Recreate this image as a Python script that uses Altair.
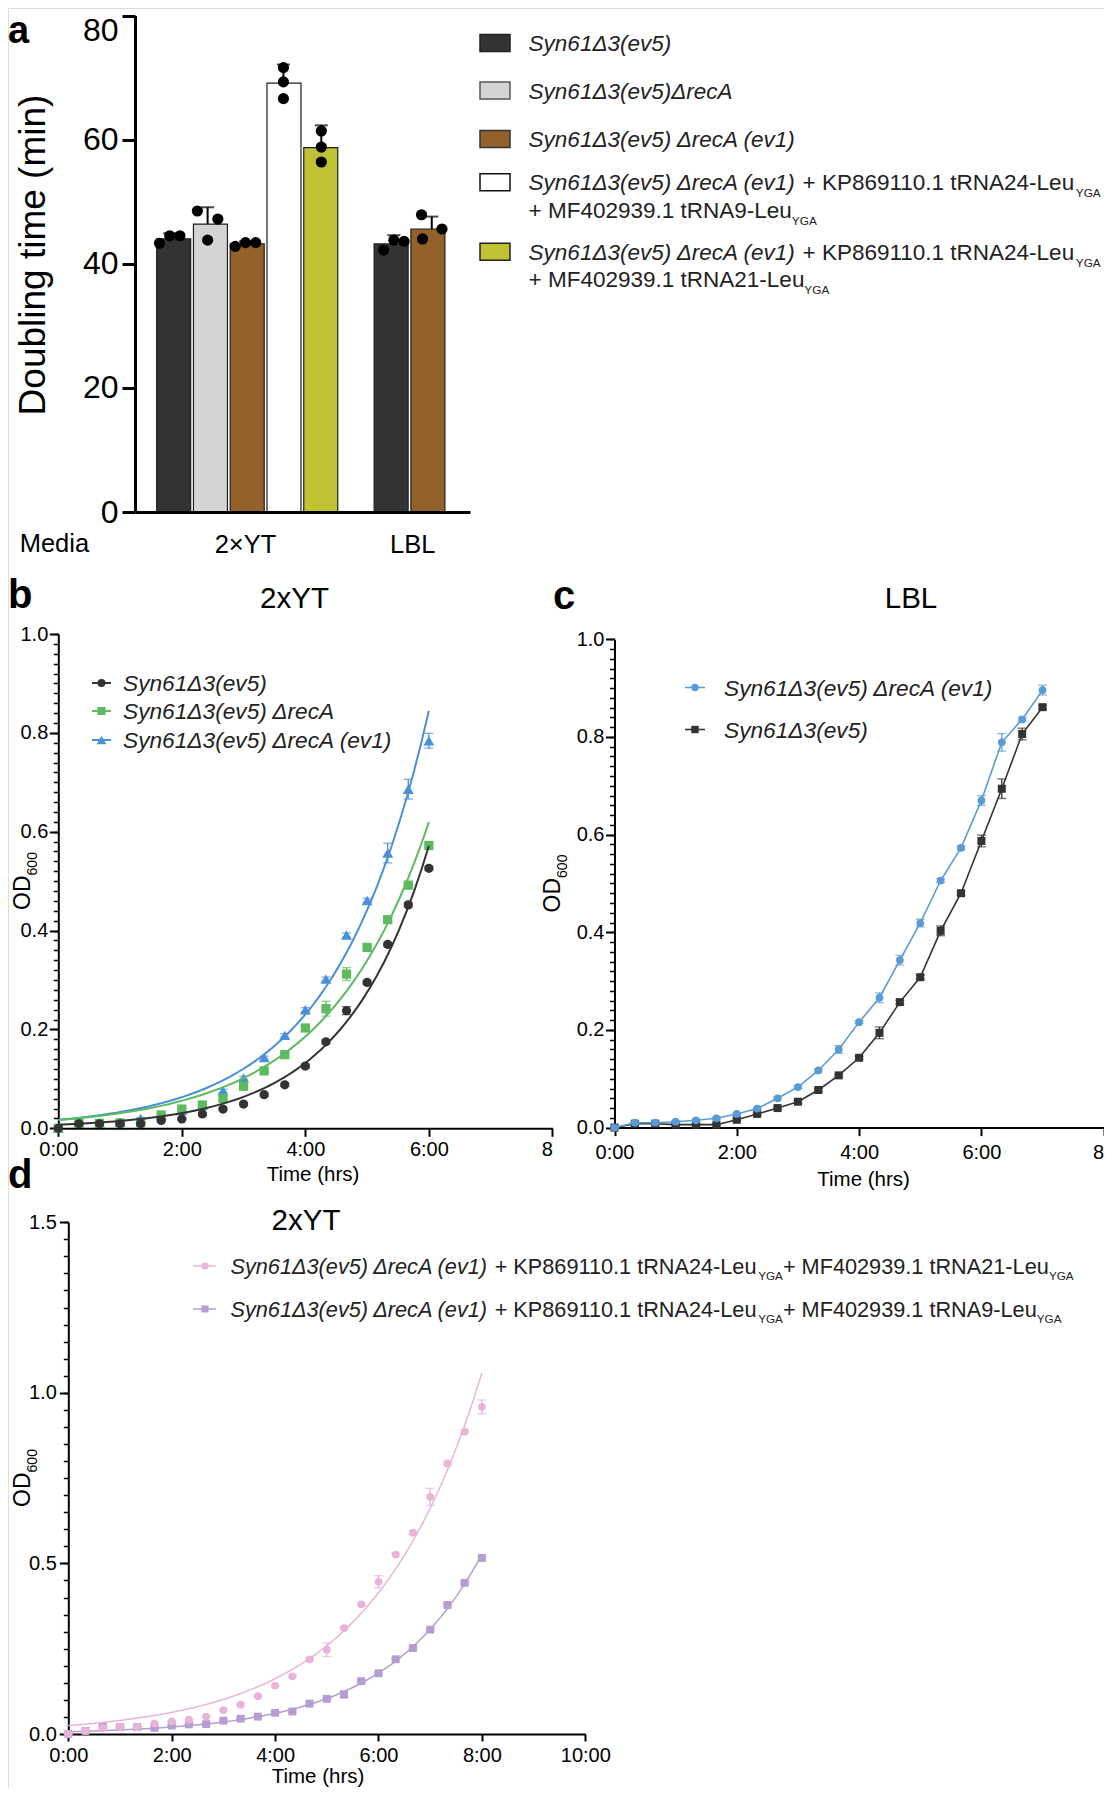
import altair as alt
import pandas as pd

FONT = "Liberation Sans"
W, H = 1096, 1780


def vx(x):
    return x - 8


def vy(y):
    return y - 8


ONE = pd.DataFrame({"k": [0]})

# ---------------- panel a : doubling times ----------------
a_media = ["2×YT", "2×YT", "2×YT", "2×YT", "2×YT", "LBL", "LBL"]
a_strain = ["ev5", "recA", "ev1", "ev1_t9", "ev1_t21", "ev5", "ev1"]
a_pos = [0, 1, 2, 3, 4, 0, 1]
a_mean = [44.0, 46.4, 43.2, 69.1, 58.7, 43.2, 45.6]
a_upper = [44.9, 49.1, 43.6, 72.1, 62.3, 44.6, 47.6]
a_reps = [
    [43.3, 44.5, 44.5],
    [48.5, 43.8, 47.2],
    [42.8, 43.4, 43.4],
    [71.6, 69.3, 66.6],
    [61.4, 58.8, 56.4],
    [42.2, 43.8, 43.6],
    [47.9, 44.0, 45.6],
]
a_spread = [[-1, 0, 1], [-1, 0, 1], [-1, 0, 1], [0, 0, 0], [0, 0, 0], [-1, 0, 1], [-1, -0.9, 1]]
a_keys = ["ev5", "recA", "ev1", "ev1_t9", "ev1_t21"]
a_colors = ["#333333", "#d4d4d4", "#93622b", "#ffffff", "#c0c133"]

# ---------------- panel b : 2xYT growth ----------------
b_min = [0, 20, 40, 60, 80, 100, 120, 140, 160, 180, 200, 220, 240, 260, 280, 300, 320, 340, 360]
b_ev5 = [0.0, 0.009, 0.009, 0.009, 0.009, 0.016, 0.019, 0.029, 0.039, 0.049, 0.068, 0.088, 0.126, 0.175, 0.238, 0.295, 0.372, 0.452, 0.526]
b_ev5_sd = [0.002, 0.002, 0.002, 0.002, 0.002, 0.002, 0.002, 0.003, 0.003, 0.003, 0.003, 0.003, 0.004, 0.004, 0.008, 0.004, 0.004, 0.004, 0.004]
b_recA = [0.0, 0.010, 0.010, 0.011, 0.011, 0.027, 0.039, 0.047, 0.060, 0.085, 0.116, 0.149, 0.203, 0.242, 0.312, 0.366, 0.422, 0.492, 0.572]
b_recA_sd = [0.002, 0.002, 0.002, 0.002, 0.002, 0.002, 0.002, 0.003, 0.003, 0.003, 0.003, 0.003, 0.006, 0.015, 0.013, 0.004, 0.006, 0.004, 0.004]
b_ev1 = [0.0, 0.010, 0.010, 0.012, 0.020, 0.027, 0.036, 0.046, 0.076, 0.102, 0.143, 0.188, 0.240, 0.302, 0.391, 0.461, 0.557, 0.686, 0.784]
b_ev1_sd = [0.002, 0.002, 0.002, 0.002, 0.002, 0.002, 0.002, 0.003, 0.003, 0.003, 0.003, 0.003, 0.004, 0.004, 0.004, 0.004, 0.020, 0.020, 0.015]

# ---------------- panel c : LBL growth ----------------
c_min = [0, 20, 40, 60, 80, 100, 120, 140, 160, 180, 200, 220, 240, 260, 280, 300, 320, 340, 360, 380, 400, 420]
c_ev1 = [0.0, 0.010, 0.010, 0.012, 0.015, 0.019, 0.028, 0.039, 0.060, 0.083, 0.117, 0.160, 0.216, 0.266, 0.343, 0.419, 0.506, 0.573, 0.670, 0.789, 0.836, 0.896]
c_ev1_sd = [0.002, 0.002, 0.002, 0.002, 0.002, 0.002, 0.002, 0.002, 0.003, 0.003, 0.003, 0.008, 0.003, 0.010, 0.010, 0.008, 0.004, 0.004, 0.010, 0.018, 0.004, 0.010]
c_ev5 = [0.0, 0.008, 0.008, 0.006, 0.006, 0.006, 0.016, 0.028, 0.040, 0.053, 0.077, 0.107, 0.143, 0.194, 0.257, 0.308, 0.403, 0.480, 0.587, 0.694, 0.806, 0.861]
c_ev5_sd = [0.002, 0.002, 0.002, 0.002, 0.002, 0.002, 0.002, 0.002, 0.003, 0.003, 0.003, 0.003, 0.003, 0.012, 0.004, 0.004, 0.010, 0.004, 0.012, 0.020, 0.012, 0.004]

# ---------------- panel d : tRNA strains in 2xYT ----------------
d_min = [0, 20, 40, 60, 80, 100, 120, 140, 160, 180, 200, 220, 240, 260, 280, 300, 320, 340, 360, 380, 400, 420, 440, 460, 480]
d_t21 = [0.0, 0.009, 0.017, 0.020, 0.020, 0.031, 0.037, 0.042, 0.051, 0.070, 0.086, 0.111, 0.142, 0.169, 0.219, 0.247, 0.310, 0.380, 0.446, 0.526, 0.590, 0.695, 0.793, 0.886, 0.959]
d_t21_sd = [0.002, 0.002, 0.002, 0.002, 0.002, 0.002, 0.002, 0.002, 0.003, 0.003, 0.003, 0.003, 0.003, 0.003, 0.004, 0.020, 0.004, 0.004, 0.018, 0.004, 0.004, 0.025, 0.004, 0.004, 0.020]
d_t9 = [0.0, 0.009, 0.023, 0.020, 0.020, 0.018, 0.025, 0.028, 0.029, 0.039, 0.045, 0.051, 0.062, 0.066, 0.089, 0.103, 0.116, 0.155, 0.178, 0.219, 0.252, 0.306, 0.378, 0.443, 0.516]
d_t9_sd = [0.002, 0.002, 0.002, 0.002, 0.002, 0.002, 0.002, 0.002, 0.002, 0.002, 0.002, 0.002, 0.003, 0.003, 0.003, 0.003, 0.010, 0.003, 0.003, 0.003, 0.003, 0.003, 0.004, 0.004, 0.004]

# ---------------- text helpers ----------------
AW = {" ": 278, "+": 584, "-": 333, ".": 278, "(": 333, ")": 333, ":": 278, "×": 584, "Δ": 668,
      "A": 667, "B": 667, "D": 722, "F": 611, "G": 778, "K": 667, "L": 556, "M": 833, "N": 722,
      "O": 778, "P": 667, "R": 722, "S": 667, "T": 611, "Y": 667,
      "a": 556, "b": 556, "c": 500, "d": 556, "e": 556, "g": 556, "h": 556, "i": 222, "l": 222,
      "m": 833, "n": 556, "o": 556, "r": 333, "s": 500, "t": 278, "u": 556, "v": 500, "x": 500, "y": 500}


def text_w(s, size):
    return sum(AW.get(c, 556) for c in s) * size / 1000.0


def label(text, x, y, size, style="normal", weight="normal", align="left", angle=0, color="black"):
    return alt.Chart(ONE).mark_text(
        text=text, font=FONT, fontSize=size, fontStyle=style, fontWeight=weight,
        align=align, baseline="alphabetic", angle=angle, color=color,
    ).encode(x=alt.value(vx(x)), y=alt.value(vy(y)))


def rich(x, y, segs, size, sub_size, sub_dy, color="#222222"):
    out = []
    cx = x
    for txt, st in segs:
        fs = sub_size if st == "s" else size
        lead = len(txt) - len(txt.lstrip(" "))
        trail = len(txt) - len(txt.rstrip(" "))
        body = txt.strip(" ")
        cx += text_w(" " * lead, fs)
        out.append(label(body, cx, y + (sub_dy if st == "s" else 0), fs,
                         style="italic" if st == "i" else "normal", color=color))
        cx += text_w(body, fs) + text_w(" " * trail, fs)
    return out


def od_title(xb, ymid, size=23, sub=14):
    total = text_w("OD", size) + text_w("600", sub)
    y0 = ymid + total / 2
    return [label("OD", xb, y0, size, angle=270),
            label("600", xb + 7, y0 - text_w("OD", size), sub, angle=270)]


def axes_layer(xs, ys, xdom, ydom, xaxis, yaxis):
    df = pd.DataFrame({"x": [xdom[0]], "y": [ydom[0]]})
    return alt.Chart(df).mark_point(opacity=0).encode(
        x=alt.X("x:Q", scale=xs, axis=xaxis), y=alt.Y("y:Q", scale=ys, axis=yaxis))


def minor_y(ys, values, axis_x):
    df = pd.DataFrame({"v": values})
    return alt.Chart(df).mark_point(opacity=0).encode(
        y=alt.Y("v:Q", scale=ys, axis=alt.Axis(
            orient="left", offset=-vx(axis_x), values=values, tickSize=5, tickWidth=1.5,
            tickColor="black", labels=False, domain=False, grid=False, title=None)))


def growth_axes(xs, ys, xdom, ydom, ax_x, ax_y, xticks, yticks, ylabpad, xlabpad, xtick, label_expr, last_right=None):
    align = "center"
    if last_right is not None:
        align = {"condition": {"test": "datum.value == %s" % last_right, "value": "right"}, "value": "center"}
    xaxis = alt.Axis(orient="bottom", offset=vy(ax_y) - H, values=xticks, tickSize=xtick, tickWidth=2,
                     tickColor="black", domainWidth=2, domainColor="black", labelExpr=label_expr,
                     labelFont=FONT, labelFontSize=20, labelColor="black", labelPadding=xlabpad,
                     labelAlign=align, labelFlush=False, labelOverlap=False, grid=False, title=None)
    yaxis = alt.Axis(orient="left", offset=-vx(ax_x), values=yticks, format=".1f", tickSize=9, tickWidth=2,
                     tickColor="black", domainWidth=2, domainColor="black", labelFont=FONT,
                     labelFontSize=20, labelColor="black", labelPadding=ylabpad, labelOverlap=False,
                     grid=False, title=None)
    return axes_layer(xs, ys, xdom, ydom, xaxis, yaxis)


def series(mins, od, sd, xs, ys, color, shape, size, kind, extent=None, line_color=None, line_width=2.0, fit_min=0.05):
    df = pd.DataFrame({"t": [m / 60 for m in mins], "od": od, "sd": sd})
    X = alt.X("t:Q", scale=xs, axis=None)
    Y = alt.Y("od:Q", scale=ys, axis=None)
    base = alt.Chart(df)
    out = []
    lc = line_color or color
    if kind == "fit":
        out.append(base.transform_filter("datum.od > %s" % fit_min)
                   .transform_regression("t", "od", method="exp", extent=extent)
                   .mark_line(color=lc, strokeWidth=line_width).encode(x=X, y=Y))
    else:
        out.append(base.mark_line(color=lc, strokeWidth=line_width).encode(x=X, y=Y))
    err = base.transform_calculate(lo="datum.od - datum.sd", hi="datum.od + datum.sd")
    out.append(err.mark_rule(color=color, strokeWidth=1.3).encode(
        x=X, y=alt.Y("lo:Q", scale=ys, axis=None), y2="hi:Q"))
    out.append(err.mark_tick(orient="horizontal", size=9, thickness=1.3, color=color).encode(
        x=X, y=alt.Y("hi:Q", scale=ys, axis=None)))
    out.append(err.mark_tick(orient="horizontal", size=9, thickness=1.3, color=color).encode(
        x=X, y=alt.Y("lo:Q", scale=ys, axis=None)))
    out.append(base.mark_point(filled=True, shape=shape, size=size, color=color, opacity=1).encode(x=X, y=Y))
    return out


def legend_marker(x1, x2, xc, y, color, shape, size, line_width=2):
    return [
        alt.Chart(ONE).mark_rule(color=color, strokeWidth=line_width).encode(
            x=alt.value(vx(x1)), x2=alt.value(vx(x2)), y=alt.value(vy(y))),
        alt.Chart(ONE).mark_point(filled=True, shape=shape, size=size, color=color, opacity=1).encode(
            x=alt.value(vx(xc)), y=alt.value(vy(y))),
    ]


layers = []

# =============== PANEL A ===============
A_SLOT = 37.9
a_group_start = {"2×YT": 0.916, "LBL": 6.83}
a_slot = [a_group_start[m] + p for m, p in zip(a_media, a_pos)]
a_xs = alt.Scale(domain=[0, 335 / A_SLOT], range=[vx(135), vx(470)], nice=False, zero=False)
a_ys = alt.Scale(domain=[0, 80], range=[vy(512), vy(15.5)], nice=False)

bars_df = pd.DataFrame({"media": a_media, "strain": a_strain, "slot": a_slot,
                        "mean": a_mean, "upper": a_upper})
dot_rows = []
for i, reps in enumerate(a_reps):
    for j, v in enumerate(reps):
        dot_rows.append({"xs": a_slot[i] + a_spread[i][j] * 0.27, "v": v})
dots_df = pd.DataFrame(dot_rows)

xa = alt.X("slot:Q", scale=a_xs, axis=None)
layers.append(alt.Chart(bars_df).mark_bar(size=34, orient="vertical", stroke="#1e1e1e", strokeWidth=1.2).encode(
    x=xa, y=alt.Y("mean:Q", scale=a_ys, axis=None, stack=None), y2=alt.datum(0),
    color=alt.Color("strain:N", scale=alt.Scale(domain=a_keys, range=a_colors), legend=None)))
layers.append(alt.Chart(bars_df).mark_rule(color="black", strokeWidth=2).encode(
    x=xa, y=alt.Y("mean:Q", scale=a_ys, axis=None), y2="upper:Q"))
layers.append(alt.Chart(bars_df).mark_tick(orient="horizontal", size=13, thickness=2, color="black").encode(
    x=xa, y=alt.Y("upper:Q", scale=a_ys, axis=None)))
layers.append(alt.Chart(dots_df).mark_circle(size=125, color="black", opacity=1).encode(
    x=alt.X("xs:Q", scale=a_xs, axis=None), y=alt.Y("v:Q", scale=a_ys, axis=None)))
layers.append(axes_layer(
    a_xs, a_ys, [0, 1], [0, 80],
    alt.Axis(orient="bottom", offset=vy(512) - H, ticks=False, labels=False, domainWidth=3,
             domainColor="black", grid=False, title=None, zindex=1),
    alt.Axis(orient="left", offset=-vx(135), values=[0, 20, 40, 60, 80], format="d", tickSize=13,
             tickWidth=3, tickColor="black", domainWidth=3, domainColor="black", labelFontSize=32,
             labelFont=FONT, labelColor="black", labelPadding=4, grid=False, title=None, zindex=1,
             labelBaseline={"condition": {"test": "datum.value == 80", "value": "top"}, "value": "middle"})))
layers.append(alt.Chart(bars_df).transform_aggregate(c="mean(slot)", groupby=["media"]).mark_text(
    font=FONT, fontSize=25.5, align="center", baseline="alphabetic", color="black").encode(
    x=alt.X("c:Q", scale=a_xs, axis=None), y=alt.value(vy(553)), text="media:N"))
layers.append(label("Media", 54.4, 552, 25.5, align="center"))
layers.append(label("Doubling time (min)", 44.5, 255, 37, align="center", angle=270))
layers.append(label("a", 8, 42.5, 38, weight="bold"))

# legend a
LA_FS, LA_SUB, LA_DY = 22.5, 11.8, 6.7
la_rows = [43, 90.5, 139, 182.3, 251.7]
for yc, col, strk in zip(la_rows, a_colors, ["#222", "#555", "#333", "#111", "#222"]):
    layers.append(alt.Chart(ONE).mark_rect(fill=col, stroke=strk, strokeWidth=1.5).encode(
        x=alt.value(vx(480)), x2=alt.value(vx(510)), y=alt.value(vy(yc - 8.5)), y2=alt.value(vy(yc + 8.5))))
LTX = 528.6
bl = 8.1
layers += rich(LTX, la_rows[0] + bl, [("Syn61Δ3(ev5)", "i")], LA_FS, LA_SUB, LA_DY)
layers += rich(LTX, la_rows[1] + bl, [("Syn61Δ3(ev5)ΔrecA", "i")], LA_FS, LA_SUB, LA_DY)
layers += rich(LTX, la_rows[2] + bl, [("Syn61Δ3(ev5) ΔrecA (ev1)", "i")], LA_FS, LA_SUB, LA_DY)
layers += rich(LTX, la_rows[3] + bl, [("Syn61Δ3(ev5) ΔrecA (ev1)", "i"), (" + KP869110.1 tRNA24-Leu", "r"), ("YGA", "s")], LA_FS, LA_SUB, LA_DY)
layers += rich(LTX, 210 + bl, [("+ MF402939.1 tRNA9-Leu", "r"), ("YGA", "s")], LA_FS, LA_SUB, LA_DY)
layers += rich(LTX, la_rows[4] + bl, [("Syn61Δ3(ev5) ΔrecA (ev1)", "i"), (" + KP869110.1 tRNA24-Leu", "r"), ("YGA", "s")], LA_FS, LA_SUB, LA_DY)
layers += rich(LTX, 279.3 + bl, [("+ MF402939.1 tRNA21-Leu", "r"), ("YGA", "s")], LA_FS, LA_SUB, LA_DY)

# =============== PANEL B ===============
B_EV5, B_RECA, B_EV1 = "#333333", "#5dba5f", "#4a90d9"
b_xs = alt.Scale(domain=[0, 8], range=[vx(58.3), vx(552.4)], nice=False, zero=False)
b_ys = alt.Scale(domain=[0, 1], range=[vy(1128.3), vy(634)], nice=False, zero=False)
layers.append(growth_axes(b_xs, b_ys, [0, 8], [0, 1], 58.3, 1128.3, [0, 2, 4, 6, 8],
                          [0, 0.2, 0.4, 0.6, 0.8, 1.0], 1.5, 3.5, 8,
                          "datum.value == 8 ? '8' : datum.value + ':00'", last_right=8))
layers.append(minor_y(b_ys, [round(0.02 * i, 2) for i in range(51)], 58.3))
layers += series(b_min, b_ev1, b_ev1_sd, b_xs, b_ys, B_EV1, "triangle-up", 120, "fit", extent=[0, 6])
layers += series(b_min, b_recA, b_recA_sd, b_xs, b_ys, B_RECA, "square", 85, "fit", extent=[0, 6])
layers += series(b_min, b_ev5, b_ev5_sd, b_xs, b_ys, B_EV5, "circle", 85, "fit", extent=[0, 6])
layers.append(label("b", 8, 608, 40, weight="bold"))
layers.append(label("2xYT", 294.5, 607.5, 29.5, align="center"))
layers += od_title(29.5, 881)
layers.append(label("Time (hrs)", 313, 1181, 20.5, align="center"))
for yc, col, shp, sz, txt in zip([683, 711, 740], [B_EV5, B_RECA, B_EV1], ["circle", "square", "triangle-up"],
                                 [65, 65, 95], ["Syn61Δ3(ev5)", "Syn61Δ3(ev5) ΔrecA", "Syn61Δ3(ev5) ΔrecA (ev1)"]):
    layers += legend_marker(92, 111, 101.5, yc, col, shp, sz)
    layers += rich(123, yc + 8, [(txt, "i")], 22.7, 12, 6.7)

# =============== PANEL C ===============
C_EV1, C_EV5 = "#5b9bd5", "#333333"
c_xs = alt.Scale(domain=[0, 8], range=[vx(614.5), vx(1103.7)], nice=False, zero=False)
c_ys = alt.Scale(domain=[0, 1], range=[vy(1127.6), vy(639.3)], nice=False, zero=False)
layers.append(growth_axes(c_xs, c_ys, [0, 8], [0, 1], 614.5, 1127.6, [0, 2, 4, 6, 8],
                          [0, 0.2, 0.4, 0.6, 0.8, 1.0], 1.5, 6.5, 8,
                          "datum.value == 8 ? '8' : datum.value + ':00'", last_right=8))
layers.append(minor_y(c_ys, [round(0.02 * i, 2) for i in range(51)], 614.5))
layers += series(c_min, c_ev5, c_ev5_sd, c_xs, c_ys, C_EV5, "square", 64, "connect", line_width=1.6)
layers += series(c_min, c_ev1, c_ev1_sd, c_xs, c_ys, C_EV1, "circle", 60, "connect", line_width=1.6)
layers.append(label("c", 553, 609, 40, weight="bold"))
layers.append(label("LBL", 911, 607.5, 29.5, align="center"))
layers += od_title(559.5, 883.5)
layers.append(label("Time (hrs)", 863.6, 1186, 20.5, align="center"))
for yc, col, shp, txt in zip([687.5, 729.5], [C_EV1, C_EV5], ["circle", "square"],
                             ["Syn61Δ3(ev5) ΔrecA (ev1)", "Syn61Δ3(ev5)"]):
    layers += legend_marker(685, 705, 695, yc, col, shp, 55, line_width=1.6)
    layers += rich(724, yc + 8, [(txt, "i")], 22.7, 12, 6.7)

# =============== PANEL D ===============
D_T21, D_T9 = "#e9b5d7", "#b49dd2"
D_AXY = 1734
d_xs = alt.Scale(domain=[0, 10], range=[vx(68.3), vx(585.3)], nice=False, zero=False)
d_ys = alt.Scale(domain=[0, 1.5], range=[vy(D_AXY), vy(1222.2)], nice=False, zero=False)
layers.append(growth_axes(d_xs, d_ys, [0, 10], [0, 1.5], 68.3, D_AXY, [0, 2, 4, 6, 8, 10],
                          [0, 0.5, 1.0, 1.5], 3, 4, 7, "datum.value + ':00'"))
layers.append(minor_y(d_ys, [round(0.05 * i, 2) for i in range(31)], 68.3))
layers += series(d_min, d_t9, d_t9_sd, d_xs, d_ys, D_T9, "square", 62, "fit", extent=[0, 8], line_width=1.5, fit_min=0.1)
layers += series(d_min, d_t21, d_t21_sd, d_xs, d_ys, D_T21, "circle", 60, "fit", extent=[0, 8], line_width=1.5, fit_min=0.1)
layers.append(label("d", 8, 1188, 40, weight="bold"))
layers.append(label("2xYT", 306, 1229.5, 29.5, align="center"))
layers += od_title(29.5, 1478)
layers.append(label("Time (hrs)", 318, 1782.5, 20.5, align="center"))
LD_FS, LD_SUB, LD_DY = 21.7, 11.7, 6.5
for yc, col, shp, last in zip([1266, 1309], [D_T21, D_T9], ["circle", "square"], ["tRNA21-Leu", "tRNA9-Leu"]):
    layers += legend_marker(193, 216, 205, yc, col, shp, 50, line_width=1.5)
    layers += rich(230.5, yc + 7.8, [("Syn61Δ3(ev5) ΔrecA (ev1)", "i"), (" + KP869110.1 tRNA24-Leu", "r"),
                                     ("YGA", "s"), ("+ MF402939.1 " + last, "r"), ("YGA", "s")],
                   LD_FS, LD_SUB, LD_DY)

chart = (
    alt.layer(*layers)
    .resolve_scale(x="independent", y="independent", color="independent")
    .resolve_axis(x="independent", y="independent")
    .properties(width=W, height=H, autosize=alt.AutoSizeParams(type="none"), padding=0, background="white")
    .configure_view(strokeWidth=0, stroke="transparent")
    .configure(font=FONT)
)

chart.save("out.html", embed_options={"renderer": "svg", "actions": False})
